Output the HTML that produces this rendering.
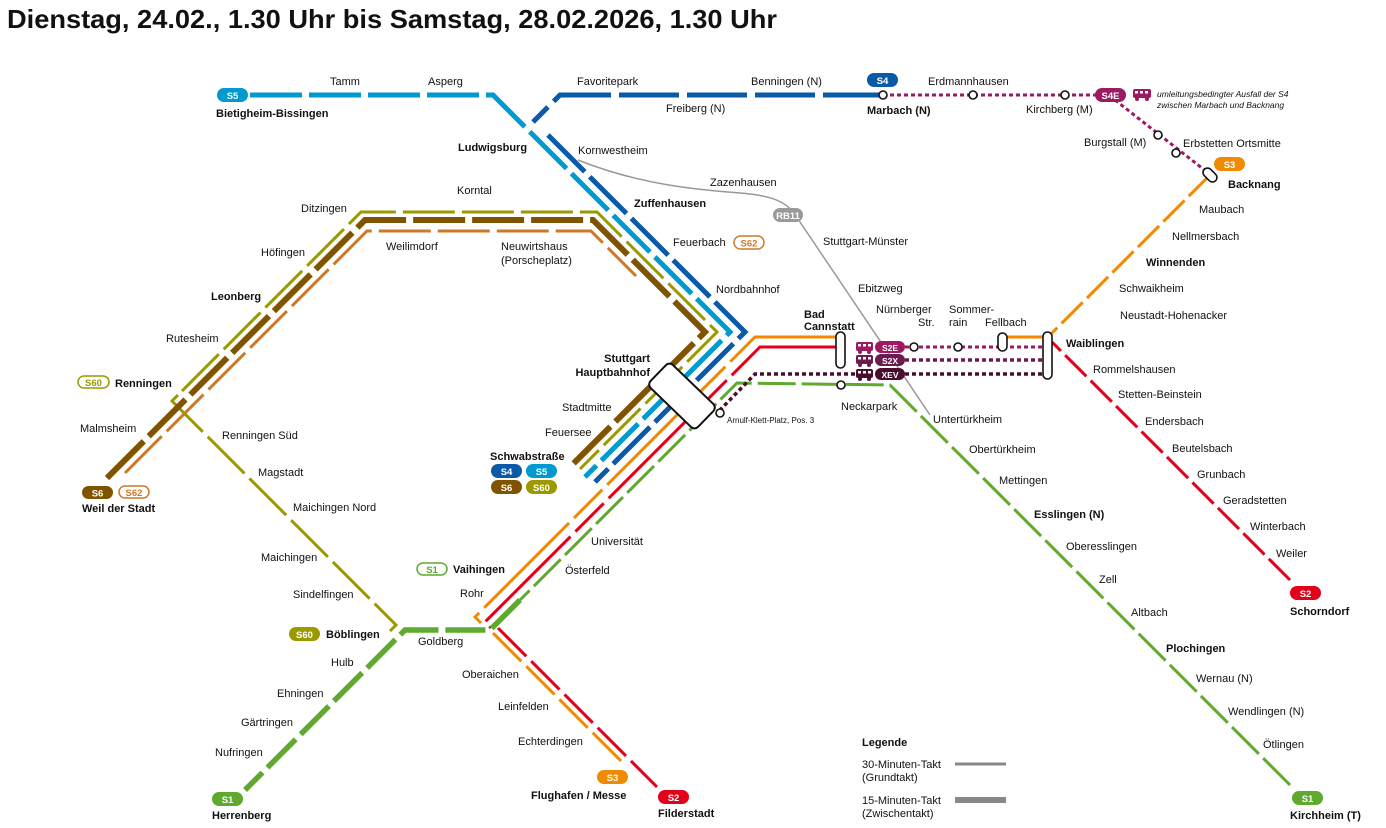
<!DOCTYPE html>
<html><head><meta charset="utf-8"><style>
html,body{margin:0;padding:0;background:#fff;}
svg{display:block;font-family:"Liberation Sans",sans-serif;}
text{font-size:11px;fill:#111;}
.b{font-weight:bold;}
.bt{font-weight:bold;fill:#fff;font-size:9.5px;text-anchor:middle;}
</style></head><body>
<svg width="1386" height="828" viewBox="0 0 1386 828" xmlns="http://www.w3.org/2000/svg">
<text x="7" y="28" class="b" style="font-size:26px" textLength="770" lengthAdjust="spacingAndGlyphs">Dienstag, 24.02., 1.30 Uhr bis Samstag, 28.02.2026, 1.30 Uhr</text>

<g fill="none" stroke-linejoin="miter">
<!-- RB11 -->
<path d="M578,160 C640,185 700,190 740,193 C780,196 790,205 800,222 L930,415" stroke="#999" stroke-width="1.5"/>
<!-- S62 -->
<path d="M125,473 L367,231 H591 L636,276" stroke="#cc7a2a" stroke-width="3" stroke-dasharray="52 7"/>
<!-- S60 -->
<path d="M182,391 L361,212 H597 L717,332 L580,469" stroke="#9a9a00" stroke-width="3" stroke-dasharray="52 7"/>
<path d="M178,395 L172,401 L396,625 L390,631" stroke="#9a9a00" stroke-width="3" stroke-dasharray="52 7"/>
<!-- S6 -->
<path d="M107,478 L365,220 H593 L705,332 L572,465" stroke="#7f5300" stroke-width="6" stroke-dasharray="52 7"/>
<!-- S5 -->
<path d="M250,95 H493 L730,332 L585,477" stroke="#0099d0" stroke-width="5" stroke-dasharray="52 7"/>
<!-- S4 -->
<path d="M883,95 H560 L533,122" stroke="#0a5aa8" stroke-width="5" stroke-dasharray="60 8"/>
<path d="M548,135 L745,332 L595,482" stroke="#0a5aa8" stroke-width="5" stroke-dasharray="52 7"/>
<!-- S3 -->
<path d="M1210,175 L1050,335" stroke="#f08a00" stroke-width="3" stroke-dasharray="30 6"/>
<path d="M1048,337 H1003" stroke="#f08a00" stroke-width="3"/>
<path d="M840,337 H755 L475,617 L481,623" stroke="#f08a00" stroke-width="3" stroke-dasharray="120 7 40 7"/>
<path d="M493,633 L622,762" stroke="#f08a00" stroke-width="3" stroke-dasharray="40 7"/>
<!-- S2 -->
<path d="M1290,580 L1052,342" stroke="#e2001a" stroke-width="3" stroke-dasharray="30 6"/>
<path d="M840,347 H760 L485,622 L491,628" stroke="#e2001a" stroke-width="3" stroke-dasharray="120 7 40 7"/>
<path d="M498,628 L657,787" stroke="#e2001a" stroke-width="3" stroke-dasharray="40 7"/>
<!-- S1 -->
<path d="M1290,785 L890,385 L737,383 L520,600" stroke="#5faa2e" stroke-width="3" stroke-dasharray="38 6"/>
<path d="M520,600 L490,630 H405 L245,790" stroke="#5faa2e" stroke-width="5.5" stroke-dasharray="40 7"/>
<!-- dotted -->
<path d="M905,347 H1045" stroke="#9b1a60" stroke-width="3" stroke-dasharray="4 3"/>
<path d="M905,360 H1045" stroke="#6b1b4e" stroke-width="3.5" stroke-dasharray="4 3"/>
<path d="M905,374 H1045 M855,374 H755 L720,410" stroke="#4a0d2e" stroke-width="3.5" stroke-dasharray="4 3"/>
<path d="M883,95 H1100 M1115,100 L1207,172" stroke="#9b1a60" stroke-width="3" stroke-dasharray="4 3"/>
</g>

<!-- stations -->
<g fill="#fff" stroke="#111" stroke-width="1.6">
<rect x="-33" y="-16" width="66" height="32" rx="5" transform="translate(682,396) rotate(44)" stroke-width="2"/>
<rect x="836" y="332" width="9" height="36" rx="4.5"/>
<rect x="998" y="333" width="9" height="18" rx="4.5"/>
<rect x="1043" y="332" width="9" height="47" rx="4.5"/>
<rect x="-4.5" y="-8" width="9" height="16" rx="4.5" transform="translate(1210,175) rotate(-45)"/>
<circle cx="914" cy="347" r="4"/><circle cx="958" cy="347" r="4"/>
<circle cx="841" cy="385" r="4"/><circle cx="720" cy="413" r="4"/>
<circle cx="883" cy="95" r="4"/><circle cx="973" cy="95" r="4"/><circle cx="1065" cy="95" r="4"/>
<circle cx="1158" cy="135" r="4"/><circle cx="1176" cy="153" r="4"/>
</g>

<!-- badges -->
<g>
<rect x="217" y="88" width="31" height="14" rx="7" fill="#0099d0"/><text x="232.5" y="99" class="bt">S5</text>
<rect x="867" y="73" width="31" height="14" rx="7" fill="#0a5aa8"/><text x="882.5" y="84" class="bt">S4</text>
<rect x="1095" y="88" width="31" height="14" rx="7" fill="#9b1a60"/><text x="1110.5" y="99" class="bt">S4E</text>
<rect x="1214" y="157" width="31" height="14" rx="7" fill="#f08a00"/><text x="1229.5" y="168" class="bt">S3</text>
<rect x="773" y="208" width="30" height="14" rx="7" fill="#999"/><text x="788" y="219" class="bt">RB11</text>
<rect x="734" y="236" width="30" height="13" rx="6.5" fill="#fff" stroke="#cc7a2a" stroke-width="1.5"/><text x="749" y="246.5" class="bt" style="fill:#cc7a2a">S62</text>
<rect x="875" y="341" width="30" height="12" rx="6" fill="#9b1a60"/><text x="890" y="351" class="bt" style="font-size:8.5px">S2E</text>
<rect x="875" y="354" width="30" height="12" rx="6" fill="#6b1b4e"/><text x="890" y="364" class="bt" style="font-size:8.5px">S2X</text>
<rect x="875" y="368" width="30" height="12" rx="6" fill="#4a0d2e"/><text x="890" y="378" class="bt" style="font-size:8.5px">XEV</text>
<rect x="491" y="464" width="31" height="14" rx="7" fill="#0a5aa8"/><text x="506.5" y="475" class="bt">S4</text>
<rect x="526" y="464" width="31" height="14" rx="7" fill="#0099d0"/><text x="541.5" y="475" class="bt">S5</text>
<rect x="491" y="480" width="31" height="14" rx="7" fill="#7f5300"/><text x="506.5" y="491" class="bt">S6</text>
<rect x="526" y="480" width="31" height="14" rx="7" fill="#9a9a00"/><text x="541.5" y="491" class="bt">S60</text>
<rect x="78" y="376" width="31" height="12" rx="6" fill="#fff" stroke="#9a9a00" stroke-width="1.5"/><text x="93.5" y="386" class="bt" style="fill:#9a9a00">S60</text>
<rect x="82" y="486" width="31" height="13" rx="6.5" fill="#7f5300"/><text x="97.5" y="496.5" class="bt">S6</text>
<rect x="119" y="486" width="30" height="12" rx="6" fill="#fff" stroke="#cc7a2a" stroke-width="1.5"/><text x="134" y="496" class="bt" style="fill:#cc7a2a">S62</text>
<rect x="417" y="563" width="30" height="12" rx="6" fill="#fff" stroke="#5faa2e" stroke-width="1.5"/><text x="432" y="573" class="bt" style="fill:#5faa2e">S1</text>
<rect x="289" y="627" width="31" height="14" rx="7" fill="#9a9a00"/><text x="304.5" y="638" class="bt">S60</text>
<rect x="597" y="770" width="31" height="14" rx="7" fill="#f08a00"/><text x="612.5" y="781" class="bt">S3</text>
<rect x="658" y="790" width="31" height="14" rx="7" fill="#e2001a"/><text x="673.5" y="801" class="bt">S2</text>
<rect x="212" y="792" width="31" height="14" rx="7" fill="#5faa2e"/><text x="227.5" y="803" class="bt">S1</text>
<rect x="1290" y="586" width="31" height="14" rx="7" fill="#e2001a"/><text x="1305.5" y="597" class="bt">S2</text>
<rect x="1292" y="791" width="31" height="14" rx="7" fill="#5faa2e"/><text x="1307.5" y="802" class="bt">S1</text>
</g>

<!-- bus icons -->
<g>
<g fill="#9b1a60"><rect x="1133" y="89" width="18" height="9" rx="2"/><circle cx="1137" cy="99" r="2"/><circle cx="1147" cy="99" r="2"/></g>
<g fill="#9b1a60"><rect x="856" y="342" width="17" height="9" rx="2"/><circle cx="860" cy="352" r="2"/><circle cx="869" cy="352" r="2"/></g>
<g fill="#6b1b4e"><rect x="856" y="355" width="17" height="9" rx="2"/><circle cx="860" cy="365" r="2"/><circle cx="869" cy="365" r="2"/></g>
<g fill="#4a0d2e"><rect x="856" y="369" width="17" height="9" rx="2"/><circle cx="860" cy="379" r="2"/><circle cx="869" cy="379" r="2"/></g>
<g fill="#fff"><rect x="1135" y="91" width="3" height="2.5"/><rect x="1140" y="91" width="3" height="2.5"/><rect x="1145" y="91" width="3" height="2.5"/>
<rect x="858" y="344" width="3" height="2.5"/><rect x="863" y="344" width="3" height="2.5"/><rect x="868" y="344" width="3" height="2.5"/>
<rect x="858" y="357" width="3" height="2.5"/><rect x="863" y="357" width="3" height="2.5"/><rect x="868" y="357" width="3" height="2.5"/>
<rect x="858" y="371" width="3" height="2.5"/><rect x="863" y="371" width="3" height="2.5"/><rect x="868" y="371" width="3" height="2.5"/></g>
</g>

<!-- labels -->
<g>
<text x="330" y="85">Tamm</text><text x="428" y="85">Asperg</text>
<text x="216" y="117" class="b">Bietigheim-Bissingen</text>
<text x="577" y="85">Favoritepark</text><text x="666" y="112">Freiberg (N)</text>
<text x="751" y="85">Benningen (N)</text><text x="867" y="114" class="b">Marbach (N)</text>
<text x="928" y="85">Erdmannhausen</text><text x="1026" y="113">Kirchberg (M)</text>
<text x="1157" y="97" style="font-size:8.5px;font-style:italic">umleitungsbedingter Ausfall der S4</text>
<text x="1157" y="108" style="font-size:8.5px;font-style:italic">zwischen Marbach und Backnang</text>
<text x="1084" y="146">Burgstall (M)</text><text x="1183" y="147">Erbstetten Ortsmitte</text>
<text x="1228" y="188" class="b">Backnang</text>
<text x="458" y="151" class="b">Ludwigsburg</text><text x="578" y="154">Kornwestheim</text>
<text x="710" y="186">Zazenhausen</text><text x="634" y="207" class="b">Zuffenhausen</text>
<text x="823" y="245">Stuttgart-Münster</text><text x="673" y="246">Feuerbach</text>
<text x="716" y="293">Nordbahnhof</text><text x="858" y="292">Ebitzweg</text>
<text x="804" y="318" class="b">Bad</text><text x="804" y="330" class="b">Cannstatt</text>
<text x="876" y="313">Nürnberger</text><text x="918" y="326">Str.</text>
<text x="949" y="313">Sommer-</text><text x="949" y="326">rain</text><text x="985" y="326">Fellbach</text>
<text x="1066" y="347" class="b">Waiblingen</text>
<text x="1120" y="319">Neustadt-Hohenacker</text><text x="1119" y="292">Schwaikheim</text>
<text x="1146" y="266" class="b">Winnenden</text><text x="1172" y="240">Nellmersbach</text>
<text x="1199" y="213">Maubach</text>
<text x="1093" y="373">Rommelshausen</text><text x="1118" y="398">Stetten-Beinstein</text>
<text x="1145" y="425">Endersbach</text><text x="1172" y="452">Beutelsbach</text>
<text x="1197" y="478">Grunbach</text><text x="1223" y="504">Geradstetten</text>
<text x="1250" y="530">Winterbach</text><text x="1276" y="557">Weiler</text>
<text x="1290" y="615" class="b">Schorndorf</text>
<text x="933" y="423">Untertürkheim</text><text x="969" y="453">Obertürkheim</text>
<text x="999" y="484">Mettingen</text><text x="1034" y="518" class="b">Esslingen (N)</text>
<text x="1066" y="550">Oberesslingen</text><text x="1099" y="583">Zell</text>
<text x="1131" y="616">Altbach</text><text x="1166" y="652" class="b">Plochingen</text>
<text x="1196" y="682">Wernau (N)</text><text x="1228" y="715">Wendlingen (N)</text>
<text x="1263" y="748">Ötlingen</text><text x="1290" y="819" class="b">Kirchheim (T)</text>
<text x="841" y="410">Neckarpark</text>
<text x="727" y="423" style="font-size:8px">Arnulf-Klett-Platz, Pos. 3</text>
<text x="650" y="362" class="b" text-anchor="end">Stuttgart</text>
<text x="650" y="376" class="b" text-anchor="end">Hauptbahnhof</text>
<text x="562" y="411">Stadtmitte</text><text x="545" y="436">Feuersee</text>
<text x="490" y="460" class="b">Schwabstraße</text>
<text x="457" y="194">Korntal</text><text x="301" y="212">Ditzingen</text>
<text x="386" y="250">Weilimdorf</text><text x="501" y="250">Neuwirtshaus</text><text x="501" y="264">(Porscheplatz)</text>
<text x="261" y="256">Höfingen</text><text x="211" y="300" class="b">Leonberg</text>
<text x="166" y="342">Rutesheim</text><text x="115" y="387" class="b">Renningen</text>
<text x="80" y="432">Malmsheim</text><text x="222" y="439">Renningen Süd</text>
<text x="258" y="476">Magstadt</text><text x="293" y="511">Maichingen Nord</text>
<text x="261" y="561">Maichingen</text><text x="293" y="598">Sindelfingen</text>
<text x="326" y="638" class="b">Böblingen</text><text x="331" y="666">Hulb</text>
<text x="277" y="697">Ehningen</text><text x="241" y="726">Gärtringen</text>
<text x="215" y="756">Nufringen</text><text x="212" y="819" class="b">Herrenberg</text>
<text x="82" y="512" class="b">Weil der Stadt</text>
<text x="418" y="645">Goldberg</text><text x="591" y="545">Universität</text>
<text x="565" y="574">Österfeld</text><text x="453" y="573" class="b">Vaihingen</text>
<text x="460" y="597">Rohr</text><text x="462" y="678">Oberaichen</text>
<text x="498" y="710">Leinfelden</text><text x="518" y="745">Echterdingen</text>
<text x="531" y="799" class="b">Flughafen / Messe</text><text x="658" y="817" class="b">Filderstadt</text>
</g>

<!-- legend -->
<text x="862" y="746" class="b">Legende</text>
<text x="862" y="768">30-Minuten-Takt</text><text x="862" y="781">(Grundtakt)</text>
<line x1="955" y1="764" x2="1006" y2="764" stroke="#888" stroke-width="3"/>
<text x="862" y="804">15-Minuten-Takt</text><text x="862" y="817">(Zwischentakt)</text>
<line x1="955" y1="800" x2="1006" y2="800" stroke="#888" stroke-width="6"/>
</svg>
</body></html>
